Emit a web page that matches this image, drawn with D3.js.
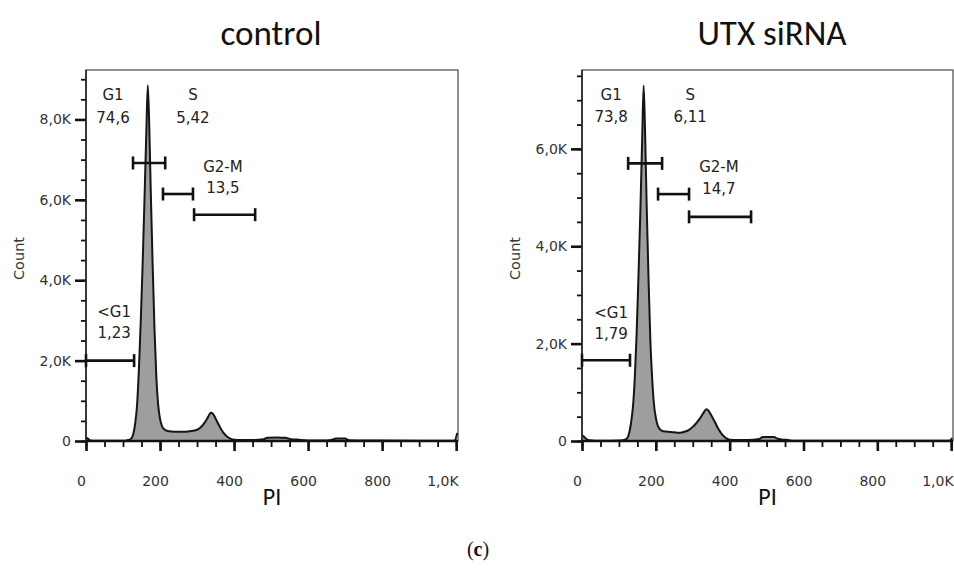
<!DOCTYPE html>
<html>
<head>
<meta charset="utf-8">
<script src="https://cdnjs.cloudflare.com/ajax/libs/d3/7.8.5/d3.min.js"></script>
<style>
  body { margin: 0; background: #fff; }
  svg { display: block; }
</style>
</head>
<body>
<div id="chart"></div>
<script>
// PI channel grid (shared by both histograms)
const piValues = [0, 5, 12, 20, 35, 60, 80, 100, 110, 120,
  127, 133, 138, 143, 148, 153, 158, 163, 167, 171,
  175, 180, 185, 190, 195, 200, 205, 210, 220, 240,
  250, 260, 270, 280, 290, 300, 310, 320, 330, 337,
  343, 350, 360, 370, 380, 390, 400, 420, 450, 480,
  490, 520, 530, 540, 550, 555, 565, 570, 580, 600,
  650, 665, 675, 700, 710, 750, 800, 900, 995, 1003]

const controlCounts = [80, 60, 15, 5, 5, 5, 5, 8, 15, 40,
  150, 450, 900, 1800, 3000, 4400, 6000, 7700, 8850, 7800,
  6200, 4400, 2800, 1600, 900, 550, 380, 300, 250, 230,
  230, 230, 232, 240, 255, 280, 340, 450, 600, 705,
  680, 560, 380, 220, 120, 60, 30, 25, 25, 45,
  80, 85, 80, 80, 50, 45, 40, 40, 25, 15,
  15, 30, 60, 60, 20, 10, 10, 8, 8, 200]

const utxCounts = [120, 90, 40, 15, 5, 5, 5, 8, 15, 40,
  140, 380, 700, 1300, 2200, 3400, 4700, 6200, 7300, 6300,
  4900, 3400, 2100, 1300, 750, 480, 320, 250, 200, 185,
  178, 170, 175, 195, 230, 290, 370, 470, 590, 650,
  620, 530, 390, 240, 130, 60, 25, 20, 20, 40,
  80, 80, 45, 30, 25, 25, 8, 6, 5, 5,
  5, 5, 5, 5, 5, 5, 5, 5, 5, 60]

// axes
const xTicks = [0, 200, 400, 600, 800, 1000]
const xTickLabels = ["0", "200", "400", "600", "800", "1,0K"]
const controlYTicks = [0, 2000, 4000, 6000, 8000]
const controlYLabels = ["0", "2,0K", "4,0K", "6,0K", "8,0K"]
const utxYTicks = [0, 2000, 4000, 6000]
const utxYLabels = ["0", "2,0K", "4,0K", "6,0K"]

// gates
const gateNames = ["<G1", "G1", "S", "G2-M"]
const controlGateStart = [0, 127, 208, 292]
const controlGateEnd = [130, 214, 289, 457]
const controlGateLevel = [2000, 6917, 6145, 5630]
const controlPct = ["1,23", "74,6", "5,42", "13,5"]
const utxGateStart = [0, 125, 206, 290]
const utxGateEnd = [130, 217, 290, 458]
const utxGateLevel = [1659, 5702, 5071, 4604]
const utxPct = ["1,79", "73,8", "6,11", "14,7"]

const W = 954, H = 583
const plotTop = 70, plotBottom = 441

const svg = d3.select("#chart").append("svg")
  .attr("width", W)
  .attr("height", H)

// where the gate texts sit, in data units: [PI, name count, percent count]
const panels = [
  { title: "control", titleX: 271, left: 86, right: 458, yMax: 9230,
    counts: controlCounts, yTicks: controlYTicks, yLabels: controlYLabels,
    gStart: controlGateStart, gEnd: controlGateEnd, gLevel: controlGateLevel, pct: controlPct,
    textAt: [[76, 3213, 2690], [73, 8617, 8044], [289, 8617, 8044], [370, 6824, 6301]] },
  { title: "UTX siRNA", titleX: 772, left: 582, right: 953, yMax: 7620,
    counts: utxCounts, yTicks: utxYTicks, yLabels: utxYLabels,
    gStart: utxGateStart, gEnd: utxGateEnd, gLevel: utxGateLevel, pct: utxPct,
    textAt: [[79, 2645, 2214], [79, 7105, 6653], [293, 7105, 6653], [371, 5646, 5194]] }
]

panels.forEach(function (p) {
  const x = d3.scaleLinear().domain([0, 1005]).range([p.left, p.right])
  const y = d3.scaleLinear().domain([0, p.yMax]).range([plotBottom, plotTop])
  const g = svg.append("g")

  const pts = piValues.map(function (v, i) { return { pi: v, c: p.counts[i] } })

  // frame
  g.append("rect")
    .attr("x", p.left).attr("y", plotTop)
    .attr("width", p.right - p.left).attr("height", plotBottom - plotTop)
    .attr("fill", "none")
    .attr("stroke", "#555")
    .attr("stroke-width", 1.3)

  // histogram
  const area = d3.area()
    .x(function (d) { return x(d.pi) })
    .y0(y(0))
    .y1(function (d) { return y(d.c) })
    .curve(d3.curveMonotoneX)
  const line = d3.line()
    .x(function (d) { return x(d.pi) })
    .y(function (d) { return y(d.c) })
    .curve(d3.curveMonotoneX)

  g.append("path").datum(pts)
    .attr("d", area)
    .attr("fill", "#9e9e9e")
  g.append("path").datum(pts)
    .attr("d", line)
    .attr("fill", "none")
    .attr("stroke", "#151515")
    .attr("stroke-width", 2)
    .attr("stroke-linejoin", "round")

  // axes: minor ticks first, then majors with labels
  g.append("g")
    .attr("transform", "translate(0," + plotBottom + ")")
    .call(d3.axisBottom(x).tickValues(d3.range(0, 1001, 50)).tickSize(6).tickFormat(""))
    .call(function (a) { a.select(".domain").remove() })
    .selectAll("line").attr("stroke", "#111").attr("stroke-width", 1.8)

  const xa = g.append("g")
    .attr("transform", "translate(0," + plotBottom + ")")
    .call(d3.axisBottom(x).tickValues(xTicks)
      .tickFormat(function (d, i) { return xTickLabels[i] })
      .tickSize(10).tickPadding(25))
  xa.select(".domain").remove()
  xa.selectAll("line").attr("stroke", "#111").attr("stroke-width", 2.6)
  xa.selectAll("text")
    .attr("dx", -5)
    .style("font-family", "DejaVu Sans, sans-serif")
    .style("font-size", "14px")
    .attr("fill", "#333")
  // last label ("1,0K") sits flush with the frame's right edge
  xa.selectAll("text").filter(function (d) { return d === 1000 })
    .attr("text-anchor", "end")
    .attr("dx", 2)

  g.append("g")
    .attr("transform", "translate(" + p.left + ",0)")
    .call(d3.axisLeft(y).tickValues(d3.range(0, p.yMax, 500)).tickSize(5).tickFormat(""))
    .call(function (a) { a.select(".domain").remove() })
    .selectAll("line").attr("stroke", "#111").attr("stroke-width", 1.8)

  const ya = g.append("g")
    .attr("transform", "translate(" + p.left + ",0)")
    .call(d3.axisLeft(y).tickValues(p.yTicks)
      .tickFormat(function (d, i) { return p.yLabels[i] })
      .tickSize(11).tickPadding(4))
  ya.select(".domain").remove()
  ya.selectAll("line").attr("stroke", "#111").attr("stroke-width", 2.6)
  ya.selectAll("text")
    .style("font-family", "DejaVu Sans, sans-serif")
    .style("font-size", "14px")
    .attr("fill", "#333")

  // axis lines
  g.append("line")
    .attr("x1", p.left).attr("x2", p.left)
    .attr("y1", plotTop).attr("y2", plotBottom)
    .attr("stroke", "#222").attr("stroke-width", 1.6)
  g.append("line")
    .attr("x1", p.left).attr("x2", p.right)
    .attr("y1", plotBottom).attr("y2", plotBottom)
    .attr("stroke", "#111").attr("stroke-width", 2.6)

  // gates
  gateNames.forEach(function (name, i) {
    const gy = y(p.gLevel[i]), x0 = x(p.gStart[i]), x1 = x(p.gEnd[i])
    g.append("line")
      .attr("x1", x0).attr("x2", x1).attr("y1", gy).attr("y2", gy)
      .attr("stroke", "#111").attr("stroke-width", 2.6)
    ;[x0, x1].forEach(function (cx) {
      g.append("line")
        .attr("x1", cx).attr("x2", cx).attr("y1", gy - 6.5).attr("y2", gy + 6.5)
        .attr("stroke", "#111").attr("stroke-width", 2.6)
    })
    const t = p.textAt[i]
    g.append("text")
      .attr("x", x(t[0])).attr("y", y(t[1])).attr("dy", "0.36em")
      .attr("text-anchor", "middle")
      .style("font-family", "DejaVu Sans, sans-serif")
      .style("font-size", "15px")
      .attr("fill", "#222")
      .text(name)
    g.append("text")
      .attr("x", x(t[0])).attr("y", y(t[2])).attr("dy", "0.36em")
      .attr("text-anchor", "middle")
      .style("font-family", "DejaVu Sans, sans-serif")
      .style("font-size", "15px")
      .attr("fill", "#222")
      .text(p.pct[i])
  })

  // labels
  g.append("text")
    .attr("transform", "translate(" + (p.left - 62) + "," + ((plotTop + plotBottom) / 2 + 3) + ") rotate(-90)")
    .attr("text-anchor", "middle")
    .style("font-family", "DejaVu Sans, sans-serif")
    .style("font-size", "14.5px")
    .attr("fill", "#333")
    .text("Count")

  g.append("text")
    .attr("x", (p.left + p.right) / 2).attr("y", 505)
    .attr("text-anchor", "middle")
    .style("font-family", "Carlito, Calibri, Lato, sans-serif")
    .style("font-size", "24px")
    .attr("fill", "#111")
    .text("PI")

  g.append("text")
    .attr("x", p.titleX).attr("y", 45)
    .attr("text-anchor", "middle")
    .style("font-family", "Carlito, Calibri, Lato, sans-serif")
    .style("font-size", "35px")
    .attr("fill", "#111")
    .text(p.title)
})

svg.append("text")
  .attr("x", 478).attr("y", 556)
  .attr("text-anchor", "middle")
  .style("font-family", "Liberation Serif, serif")
  .style("font-size", "20px")
  .attr("fill", "#111")
  .html("(<tspan font-weight='bold'>c</tspan>)")
</script>
</body>
</html>
